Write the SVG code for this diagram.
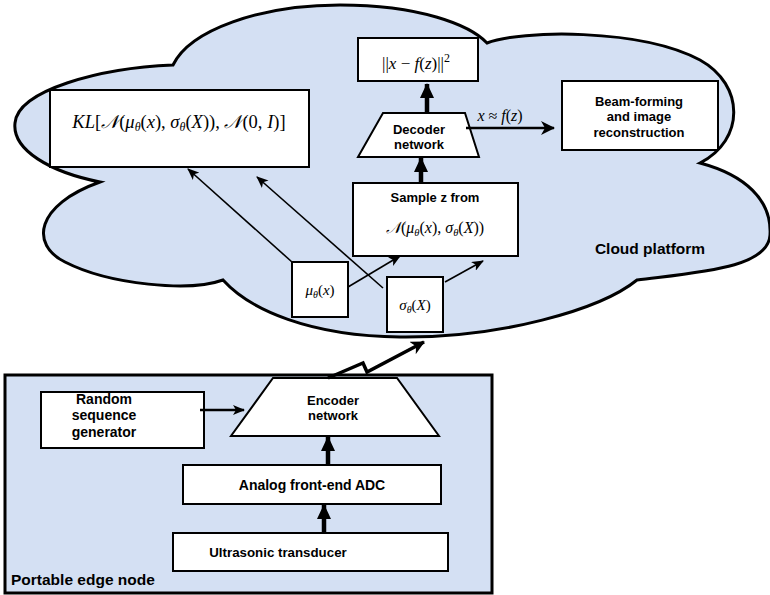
<svg xmlns="http://www.w3.org/2000/svg" width="770" height="595" viewBox="0 0 770 595">
<style>
.box{fill:#fff;stroke:#000;stroke-width:2}
.lbl{font-family:"Liberation Sans",Arial,sans-serif;font-weight:bold;fill:#000;text-anchor:middle}
.math{font-family:"Liberation Serif","Times New Roman",serif;fill:#000;text-anchor:middle}
.it{font-style:italic}
.thin{stroke:#000;stroke-width:1.6;fill:none}
.thick{stroke:#000;stroke-width:4.5;fill:none}
</style>
<defs>
<marker id="ah" markerUnits="userSpaceOnUse" markerWidth="12" markerHeight="10" refX="11" refY="5" orient="auto"><path d="M0,0 L12,5 L0,10 L3,5 z" fill="#000"/></marker>
<marker id="ahb" markerUnits="userSpaceOnUse" markerWidth="16" markerHeight="16" refX="14" refY="8" orient="auto"><path d="M0,1 L15,8 L0,15 z" fill="#000"/></marker>
<marker id="ahm" markerUnits="userSpaceOnUse" markerWidth="14" markerHeight="14" refX="13" refY="7" orient="auto"><path d="M0,0 L14,7 L0,14 L4,7 z" fill="#000"/></marker>
</defs>

<g id="cloud">
<path d="M173,65 C190,30 260,5 340,5 C420,5 470,25 487,43 C520,30 640,28 700,60 C745,85 745,140 700,163 C745,175 772,200 770,235 C768,268 700,272 637,280 C600,310 500,338 400,337 C310,336 250,310 223,280 C190,292 110,285 65,262 C30,245 35,205 100,182 C50,172 12,150 15,123 C18,90 100,68 173,65 Z" fill="#d4e0f3" stroke="#000" stroke-width="3" stroke-linejoin="miter"/>
<text class="lbl" x="650" y="254" font-size="15.5">Cloud platform</text>
</g>

<g id="edge">
<rect x="5" y="375" width="487" height="218" fill="#d4e0f3" stroke="#000" stroke-width="3"/>
<text class="lbl" x="11" y="585" font-size="15.5" style="text-anchor:start">Portable edge node</text>
</g>

<g id="kl">
<rect class="box" x="50" y="90" width="259" height="77"/>
<text class="math" x="179" y="128" font-size="18.5"><tspan class="it">KL</tspan>[<tspan class="it">𝒩</tspan>(<tspan class="it">μ</tspan><tspan class="it" font-size="12" baseline-shift="-3">θ</tspan>(<tspan class="it">x</tspan>), <tspan class="it">σ</tspan><tspan class="it" font-size="12" baseline-shift="-3">θ</tspan>(<tspan class="it">X</tspan>)), <tspan class="it">𝒩</tspan>(0, <tspan class="it">I</tspan>)]</text>
</g>

<g id="loss">
<rect class="box" x="358" y="38" width="120" height="43"/>
<text class="math" x="416" y="69" font-size="17">||<tspan class="it">x</tspan> − <tspan class="it">f</tspan>(<tspan class="it">z</tspan>)||<tspan font-size="12" baseline-shift="7">2</tspan></text>
</g>

<g id="decoder">
<path d="M383,113 L465,113 L479,157 L358,157 Z" class="box"/>
<text class="lbl" x="419" y="134" font-size="13">Decoder</text>
<text class="lbl" x="419" y="149" font-size="13">network</text>
</g>

<g id="beam">
<rect class="box" x="562" y="81" width="156" height="69"/>
<text class="lbl" x="639" y="106" font-size="13">Beam-forming</text>
<text class="lbl" x="639" y="121" font-size="13">and image</text>
<text class="lbl" x="639" y="137" font-size="13">reconstruction</text>
</g>

<g id="sample">
<rect class="box" x="353" y="183" width="165" height="73"/>
<text class="lbl" x="435" y="202" font-size="13">Sample z from</text>
<text class="math" x="435" y="233" font-size="16"><tspan class="it">𝒩</tspan>(<tspan class="it">μ</tspan><tspan class="it" font-size="10.5" baseline-shift="-3">θ</tspan>(<tspan class="it">x</tspan>), <tspan class="it">σ</tspan><tspan class="it" font-size="10.5" baseline-shift="-3">θ</tspan>(<tspan class="it">X</tspan>))</text>
</g>

<g id="mu">
<rect class="box" x="292" y="262" width="56" height="55"/>
<text class="math" x="320" y="295" font-size="15"><tspan class="it">μ</tspan><tspan class="it" font-size="10" baseline-shift="-3">θ</tspan>(<tspan class="it">x</tspan>)</text>
</g>

<g id="sigma">
<rect class="box" x="387" y="277" width="56" height="55"/>
<text class="math" x="415" y="310" font-size="15"><tspan class="it">σ</tspan><tspan class="it" font-size="10" baseline-shift="-3">θ</tspan>(<tspan class="it">X</tspan>)</text>
</g>

<g id="random">
<rect class="box" x="41" y="392" width="163" height="56"/>
<text class="lbl" x="104" y="404" font-size="14">Random</text>
<text class="lbl" x="104" y="420" font-size="14">sequence</text>
<text class="lbl" x="104" y="437" font-size="14">generator</text>
</g>

<g id="encoder">
<path d="M273,378 L397,378 L439,436 L231,436 Z" class="box"/>
<text class="lbl" x="333" y="405" font-size="13">Encoder</text>
<text class="lbl" x="333" y="420" font-size="13">network</text>
</g>

<g id="adc">
<rect class="box" x="183" y="465" width="258" height="39"/>
<text class="lbl" x="312" y="490" font-size="14">Analog front-end ADC</text>
</g>

<g id="transducer">
<rect class="box" x="173" y="533" width="275" height="38"/>
<text class="lbl" x="278" y="557" font-size="13.3">Ultrasonic transducer</text>
</g>

<g id="connectors">
<line class="thick" x1="427" y1="113" x2="427" y2="84" marker-end="url(#ahb)"/>
<line class="thick" x1="421" y1="183" x2="421" y2="158" marker-end="url(#ahb)"/>
<line x1="466" y1="128" x2="554" y2="128" stroke="#000" stroke-width="2.5" marker-end="url(#ahm)"/>
<text class="math" x="500" y="121" font-size="16"><tspan class="it">x</tspan> ≈ <tspan class="it">f</tspan>(<tspan class="it">z</tspan>)</text>
<line class="thin" x1="292" y1="262" x2="188" y2="169" marker-end="url(#ah)"/>
<line class="thin" x1="383" y1="288" x2="257" y2="177" marker-end="url(#ah)"/>
<line class="thin" x1="348" y1="287" x2="400" y2="256" marker-end="url(#ah)"/>
<line class="thin" x1="445" y1="282" x2="483" y2="261" marker-end="url(#ah)"/>
<line x1="200" y1="410" x2="244" y2="410" stroke="#000" stroke-width="2.5" marker-end="url(#ah)"/>
<line class="thick" x1="328" y1="464" x2="328" y2="437" marker-end="url(#ahb)"/>
<line class="thick" x1="324" y1="532" x2="324" y2="505" marker-end="url(#ahb)"/>
<polyline points="328,378 363,363 367,372 424,342" fill="none" stroke="#000" stroke-width="3.5" stroke-linejoin="miter" marker-end="url(#ahm)"/>
</g>
</svg>
